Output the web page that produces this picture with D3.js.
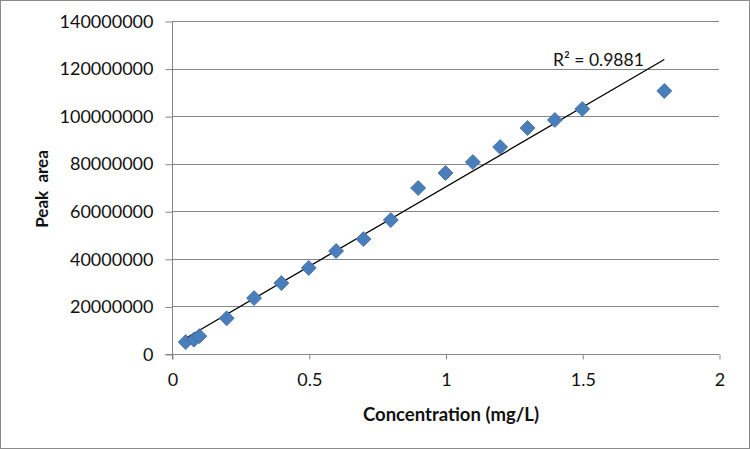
<!DOCTYPE html>
<html>
<head>
<meta charset="utf-8">
<script src="https://cdn.jsdelivr.net/npm/d3@7"></script>
<style>
  body { margin: 0; background: #fff; }
  text { font-family: Lato, "Open Sans", sans-serif; fill: #111; }
</style>
</head>
<body>
<div id="chart"></div>
<script>
// values
var conc = [0.05, 0.08, 0.1, 0.2, 0.3, 0.4, 0.5, 0.6, 0.7, 0.8, 0.9, 1.0, 1.1, 1.2, 1.3, 1.4, 1.5, 1.8];
var peakArea = [5000000, 6000000, 7500000, 15000000, 23500000, 29800000, 36200000, 43300000,
                48300000, 56300000, 69800000, 76100000, 80700000, 87000000, 95000000, 98400000,
                103000000, 110600000];
var xTicks = [0, 0.5, 1, 1.5, 2];
var yTicks = [0, 20000000, 40000000, 60000000, 80000000, 100000000, 120000000, 140000000];
var r2Label = "R\u00b2 = 0.9881";

var W = 750, H = 449;
var plot = {left: 172, right: 719, top: 21, bottom: 354};

var data = conc.map(function(c, i) { return {x: c, y: peakArea[i]}; });

var svg = d3.select("#chart")
  .append("svg")
    .attr("width", W)
    .attr("height", H);

// outer frame
svg.append("rect")
  .attr("x", 0.5).attr("y", 0.5)
  .attr("width", W - 1).attr("height", H - 1)
  .attr("fill", "#fff")
  .attr("stroke", "#8a8a8a");

var x = d3.scaleLinear().domain([0, 2]).range([plot.left, plot.right]);
var y = d3.scaleLinear().domain([0, 140000000]).range([plot.bottom, plot.top]);

// horizontal gridlines
svg.append("g")
  .selectAll("line")
  .data(yTicks.slice(1))
  .enter().append("line")
    .attr("x1", plot.left).attr("x2", plot.right)
    .attr("y1", function(d) { return Math.round(y(d)) + 0.5; })
    .attr("y2", function(d) { return Math.round(y(d)) + 0.5; })
    .attr("stroke", "#868686");

// Y axis
var yAxis = svg.append("g")
  .attr("transform", "translate(" + (plot.left + 0.5) + ",0.5)")
  .call(d3.axisLeft(y).tickValues(yTicks).tickSize(7).tickPadding(12)
    .tickFormat(function(d) { return d3.format("d")(d); }));
yAxis.select(".domain").attr("stroke", "#868686").attr("d", "M0," + plot.top + "V" + (plot.bottom + 5));
yAxis.selectAll(".tick line").attr("stroke", "#868686");
yAxis.selectAll("text").style("font-size", "18px").attr("fill", "#111");

// X axis
var xAxis = svg.append("g")
  .attr("transform", "translate(0.5," + (plot.bottom + 0.5) + ")")
  .call(d3.axisBottom(x).tickValues(xTicks).tickSize(5).tickPadding(14)
    .tickFormat(function(d) { return String(d); }));
xAxis.select(".domain").attr("stroke", "#868686").attr("d", "M" + (plot.left - 7) + ",0H" + plot.right);
xAxis.selectAll(".tick line").attr("stroke", "#868686");
xAxis.selectAll("text").style("font-size", "18px").attr("fill", "#111");

// linear trendline (least squares, drawn from min x to max x like Excel)
var mx = d3.mean(conc), my = d3.mean(peakArea);
var sxy = d3.sum(data, function(d) { return (d.x - mx) * (d.y - my); });
var sxx = d3.sum(data, function(d) { return (d.x - mx) * (d.x - mx); });
var slope = sxy / sxx, icpt = my - slope * mx;
var xr = d3.extent(conc);

svg.append("path")
  .datum(xr)
  .attr("fill", "none")
  .attr("stroke", "#000")
  .attr("stroke-width", 1.3)
  .attr("d", d3.line()
    .x(function(d) { return x(d); })
    .y(function(d) { return y(icpt + slope * d); }));

// diamond markers
var diamond = "M0,-7.5L7.5,0L0,7.5L-7.5,0Z";
svg.append("g")
  .selectAll("path")
  .data(data)
  .enter().append("path")
    .attr("d", diamond)
    .attr("transform", function(d) { return "translate(" + x(d.x) + "," + y(d.y) + ")"; })
    .attr("fill", "#4a7ebb")
    .attr("stroke", "#3d6ca6")
    .attr("stroke-width", 0.8);

// R squared label
svg.append("text")
  .attr("x", 553).attr("y", 66)
  .style("font-size", "17.5px")
  .text(r2Label);

// axis titles
svg.append("text")
  .attr("x", 451)
  .attr("y", 421)
  .attr("text-anchor", "middle")
  .style("font-size", "18.5px")
  .style("font-weight", "bold")
  .text("Concentration (mg/L)");

svg.append("text")
  .attr("transform", "translate(48,189) rotate(-90)")
  .attr("text-anchor", "middle")
  .style("font-size", "17px")
  .style("font-weight", "bold")
  .style("white-space", "pre")
  .text("Peak  area");
</script>
</body>
</html>
